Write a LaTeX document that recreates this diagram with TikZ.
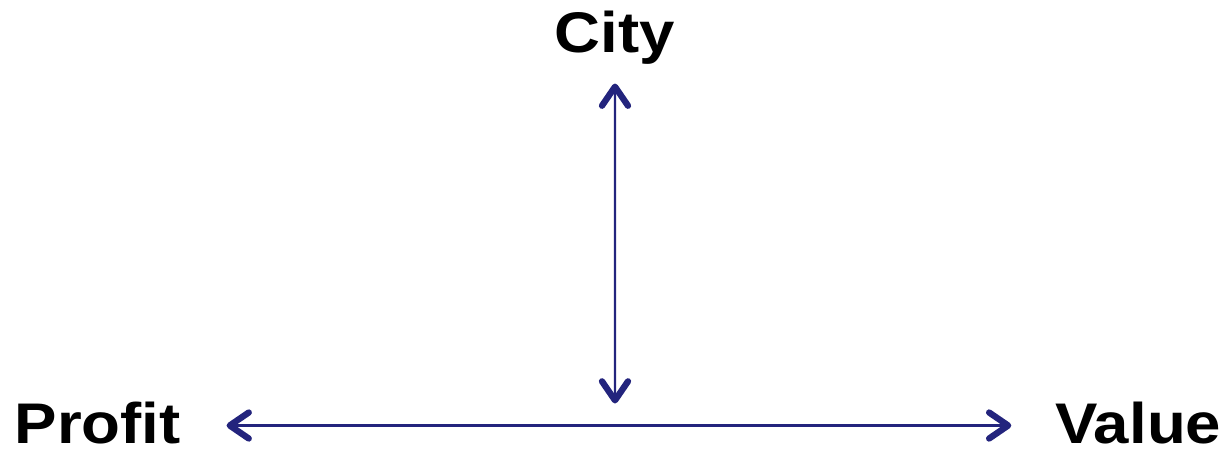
\documentclass[tikz,border=0pt]{standalone}
\usepackage{fontspec}
\setmainfont{Liberation Sans}
\usetikzlibrary{arrows.meta,positioning}
\definecolor{navyline}{RGB}{35,36,125}

\begin{document}
\begin{tikzpicture}[
    term/.style={font=\fontsize{16.3}{19}\selectfont\bfseries, inner sep=0pt, xscale=1.11, transform shape},
    link/.style={draw=navyline, line width=0.7pt,
        {Straight Barb[length=1.9mm, width=2.6mm, line width=1.8pt, round]}-{Straight Barb[length=1.9mm, width=2.6mm, line width=1.8pt, round]}}]
    \useasboundingbox (0,0) rectangle (12.32,4.6);
    \node[term, anchor=base west] (profit) at (0.14,0.16) {Profit};
    \node[term, anchor=base east] (value) at (12.22,0.16) {Value};
    \node[term, anchor=base] (city) at (6.15,4.07) {City};
    \coordinate (hub) at (city |- profit);
    \draw[link, shorten <=0.45cm, shorten >=0.43cm] ([yshift=-0.02cm]profit.east) -- ([yshift=-0.02cm]value.west);
    \draw[link, shorten <=0.18cm, shorten >=0.2cm] (city) -- (hub);
\end{tikzpicture}
\end{document}
